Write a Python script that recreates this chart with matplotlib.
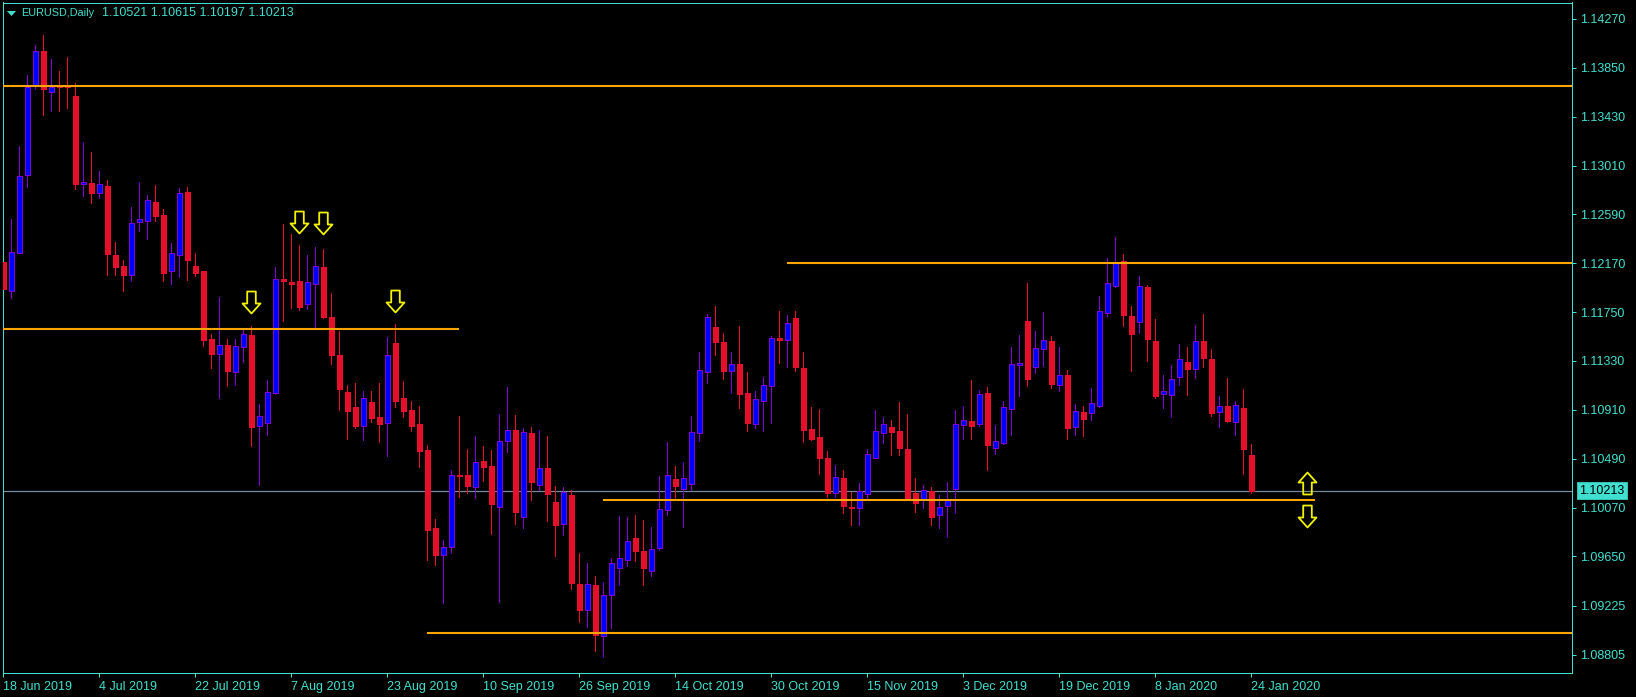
import numpy as np
import matplotlib
matplotlib.use('Agg')
from matplotlib import pyplot as plt
from matplotlib.path import Path

opens = [1.12177,1.11934,1.12261,1.12931,1.13702,1.13992,1.13645,1.13699,1.13699,1.13608,
         1.12854,1.12860,1.12776,1.12834,1.12238,1.12146,1.12071,1.12527,1.12536,1.12693,
         1.12582,1.12106,1.12243,1.12782,1.12146,1.12100,1.11515,1.11392,1.11463,1.11237,
         1.11452,1.11549,1.10773,1.10799,1.11056,1.12034,1.12008,1.12014,1.11822,1.11994,
         1.12134,1.11704,1.11377,1.11062,1.10930,1.10773,1.10976,1.10844,1.10799,1.11481,
         1.11008,1.10907,1.10787,1.10561,1.09894,1.09664,1.09733,1.10349,1.10346,1.10246,
         1.10467,1.10427,1.10077,1.10644,1.10736,1.09991,1.10707,1.10266,1.10409,1.10117,
         1.09931,1.10177,1.09412,1.09191,1.09401,1.08968,1.09320,1.09552,1.09621,1.09808,
         1.09696,1.09527,1.09724,1.10051,1.10312,1.10232,1.10275,1.10713,1.11238,1.11619,
         1.11493,1.11246,1.11304,1.11052,1.10791,1.10989,1.11117,1.11524,1.11513,1.11699,
         1.11269,1.10745,1.10676,1.10496,1.10197,1.10324,1.10074,1.10066,1.10189,1.10498,
         1.10711,1.10762,1.10728,1.10573,1.10195,1.10132,1.10212,1.10005,1.10083,1.10229,
         1.10779,1.10814,1.10791,1.11052,1.10584,1.10627,1.10917,1.11295,1.11671,1.11278,
         1.11435,1.11498,1.11125,1.11205,1.10764,1.10890,1.10884,1.10945,1.11744,1.11976,
         1.12186,1.11713,1.11667,1.11962,1.11498,1.11048,1.11039,1.11194,1.11317,1.11263,
         1.11498,1.11343,1.10893,1.10939,1.10807,1.10922,1.10521]
highs = [1.12435,1.12550,1.13178,1.13788,1.14046,1.14132,1.13926,1.13823,1.13943,1.13717,
         1.13209,1.13123,1.12960,1.12883,1.12352,1.12198,1.12653,1.12868,1.12756,1.12840,
         1.12633,1.12344,1.12817,1.12825,1.12258,1.12100,1.11561,1.11879,1.11518,1.11518,
         1.11595,1.11630,1.10959,1.11165,1.12137,1.12507,1.12421,1.12326,1.12240,1.12309,
         1.12292,1.11913,1.11587,1.11122,1.11140,1.11071,1.11071,1.11140,1.11535,1.11647,
         1.11157,1.10985,1.10942,1.10607,1.09971,1.09790,1.10392,1.10857,1.10573,1.10685,
         1.10599,1.10564,1.10874,1.11106,1.10865,1.10753,1.10762,1.10736,1.10685,1.10255,
         1.10246,1.10220,1.09679,1.09593,1.09481,1.09429,1.09636,1.09997,1.09988,1.10005,
         1.09962,1.09902,1.10341,1.10633,1.10427,1.10461,1.10857,1.11407,1.11734,1.11802,
         1.11570,1.11407,1.11630,1.11235,1.11072,1.11192,1.11545,1.11759,1.11725,1.11759,
         1.11407,1.10934,1.10917,1.10556,1.10435,1.10392,1.10203,1.10281,1.10573,1.10908,
         1.10848,1.10822,1.10977,1.10874,1.10324,1.10263,1.10246,1.10177,1.10289,1.10908,
         1.10943,1.11166,1.11080,1.11106,1.10779,1.10986,1.11450,1.11553,1.12000,1.11587,
         1.11750,1.11544,1.11449,1.11251,1.10959,1.10942,1.11097,1.11888,1.12214,1.12395,
         1.12249,1.11802,1.12060,1.11982,1.11690,1.11208,1.11294,1.11475,1.11449,1.11638,
         1.11733,1.11432,1.11028,1.11183,1.10985,1.11088,1.10615]
lows = [1.11811,1.11874,1.12261,1.12828,1.13671,1.13444,1.13479,1.13479,1.13507,1.12808,
        1.12751,1.12688,1.12733,1.12069,1.12069,1.11931,1.12020,1.12447,1.12378,1.12533,
        1.12020,1.11994,1.12051,1.12028,1.12063,1.11461,1.11271,1.11011,1.11117,1.11122,
        1.11320,1.10598,1.10263,1.10692,1.11045,1.11673,1.11784,1.11767,1.11776,1.11607,
        1.11698,1.11303,1.10907,1.10658,1.10753,1.10649,1.10804,1.10632,1.10512,1.10933,
        1.10847,1.10727,1.10417,1.09618,1.09575,1.09249,1.09679,1.10160,1.10194,1.10151,
        1.10298,1.09842,1.09257,1.10547,1.09928,1.09894,1.10134,1.10220,1.09954,1.09653,
        1.09833,1.09369,1.09085,1.09042,1.08839,1.08787,1.09034,1.09403,1.09567,1.09610,
        1.09403,1.09481,1.09704,1.10005,1.10134,1.09902,1.10220,1.10642,1.11140,1.11381,
        1.11175,1.11054,1.10925,1.10728,1.10754,1.10728,1.10796,1.11312,1.11278,1.11244,
        1.10633,1.10650,1.10358,1.10160,1.10160,1.10023,1.09919,1.09919,1.10143,1.10496,
        1.10625,1.10521,1.10521,1.10143,1.10031,1.10066,1.09919,1.09891,1.09816,1.10023,
        1.10659,1.10659,1.10771,1.10392,1.10530,1.10616,1.10693,1.11029,1.11115,1.11226,
        1.11286,1.11097,1.11071,1.10658,1.10692,1.10684,1.10821,1.10933,1.11716,1.11965,
        1.11630,1.11243,1.11569,1.11329,1.11011,1.10925,1.10847,1.11122,1.11036,1.11183,
        1.11277,1.10856,1.10761,1.10804,1.10692,1.10357,1.10197]
closes = [1.11945,1.12263,1.12917,1.13682,1.13992,1.13671,1.13682,1.13688,1.13688,1.12854,
          1.12868,1.12776,1.12848,1.12252,1.12140,1.12071,1.12513,1.12547,1.12711,1.12579,
          1.12089,1.12255,1.12771,1.12200,1.12089,1.11509,1.11392,1.11463,1.11243,1.11455,
          1.11558,1.10761,1.10853,1.11059,1.12031,1.12017,1.11991,1.11796,1.12005,1.12143,
          1.11707,1.11380,1.11088,1.10899,1.10770,1.11008,1.10839,1.10787,1.11377,1.10985,
          1.10899,1.10770,1.10555,1.09876,1.09661,1.09727,1.10346,1.10341,1.10255,1.10458,
          1.10418,1.10100,1.10639,1.10733,1.10031,1.10716,1.10289,1.10407,1.10186,1.09919,
          1.10200,1.09421,1.09188,1.09409,1.08974,1.09315,1.09590,1.09633,1.09779,1.09696,
          1.09550,1.09710,1.10054,1.10346,1.10255,1.10321,1.10716,1.11249,1.11705,1.11496,
          1.11244,1.11301,1.11046,1.10796,1.11000,1.11120,1.11524,1.11513,1.11653,1.11278,
          1.10736,1.10659,1.10496,1.10195,1.10329,1.10083,1.10066,1.10209,1.10527,1.10725,
          1.10785,1.10719,1.10582,1.10152,1.10109,1.10218,1.09988,1.10071,1.10134,1.10785,
          1.10819,1.10771,1.11043,1.10607,1.10639,1.10931,1.11301,1.11310,1.11175,1.11438,
          1.11506,1.11134,1.11205,1.10753,1.10896,1.10830,1.10965,1.11756,1.11996,1.12183,
          1.11724,1.11561,1.11971,1.11518,1.11028,1.11068,1.11171,1.11343,1.11260,1.11498,
          1.11354,1.10882,1.10939,1.10813,1.10948,1.10572,1.10213]

date_labels = ['18 Jun 2019','4 Jul 2019','22 Jul 2019','7 Aug 2019','23 Aug 2019','10 Sep 2019',
               '26 Sep 2019','14 Oct 2019','30 Oct 2019','15 Nov 2019','3 Dec 2019','19 Dec 2019',
               '8 Jan 2020','24 Jan 2020']
price_ticks = [1.14270,1.13850,1.13430,1.13010,1.12590,1.12170,1.11750,1.11330,1.10910,1.10490,
               1.10070,1.09650,1.09225,1.08805]

# levels drawn by hand on the chart: price, first bar, last bar
level_prices = [1.13694,1.11604,1.12174,1.10134,1.08991]
level_starts = [-1,-1,98,75,53]
level_ends = [197,57,197,164,197]

down_arrow_bars = [37,40,31,49,163]
down_arrow_prices = [1.12524,1.12512,1.11834,1.11843,1.09994]
up_arrow_bars = [163]
up_arrow_prices = [1.10283]

turq = '#40E0D0'
red = '#E6102A'
blue = '#0000FF'
purple = '#7A00D6'
orange = '#FFA500'
W, H = 1636, 697

plt.rcParams['font.family'] = ['Liberation Sans', 'DejaVu Sans']
fig = plt.figure(figsize=(W/100, H/100), dpi=100, facecolor='black')
ax = fig.add_axes([2.5/W, 1-673/H, (1572-2.5)/W, (673-2.5)/H], facecolor='black')

o = np.array(opens)
h = np.array(highs)
l = np.array(lows)
c = np.array(closes)
x = np.arange(len(o))
up = c > o

ax.axhline(closes[-1], color='#778899', lw=0.9, zorder=1)

ax.vlines(x[up], l[up], h[up], color=purple, lw=0.72, antialiased=False, zorder=2)
ax.vlines(x[~up], l[~up], h[~up], color=red, lw=0.72, antialiased=False, zorder=2)
ax.bar(x[up], (c-o)[up], bottom=o[up], width=0.56, facecolor=blue, edgecolor=purple,
       linewidth=0.72, antialiased=False, zorder=3)
ax.bar(x[~up], (o-c)[~up], bottom=c[~up], width=0.56, facecolor=red, edgecolor=red,
       linewidth=0.72, antialiased=False, zorder=3)

ax.hlines(level_prices, level_starts, level_ends, color=orange, lw=1.5, zorder=4)

# hollow arrows, sized in pixels
down_path = Path([(-4.3,11),(4.3,11),(4.3,-1),(9,-1),(0,-11),(-9,-1),(-4.3,-1),(-4.3,11)], closed=True)
up_path = Path([(-4.3,-11),(4.3,-11),(4.3,1),(9,1),(0,11),(-9,1),(-4.3,1),(-4.3,-11)], closed=True)
ax.plot(down_arrow_bars, down_arrow_prices, ls='none', marker=down_path, ms=15.8, mfc='none',
        mec='#F2F200', mew=1.3, zorder=5)
ax.plot(up_arrow_bars, up_arrow_prices, ls='none', marker=up_path, ms=15.8, mfc='none',
        mec='#F2F200', mew=1.3, zorder=5)

ax.set_xlim((2.5-3.33)/8, (1572-3.33)/8)
ax.set_ylim(1.14433-673*0.00008597, 1.14433-2.5*0.00008597)

ax.set_xticks(x[::12])
ax.set_xticklabels(date_labels, ha='left')
ax.yaxis.tick_right()
ax.set_yticks(price_ticks)
ax.set_yticklabels([f'{p:.5f}' for p in price_ticks])
ax.tick_params(axis='x', colors=turq, length=3, width=0.72, labelsize=9, pad=2.5)
ax.tick_params(axis='y', colors=turq, length=3, width=0.72, labelsize=9, pad=3)
for sp in ax.spines.values():
    sp.set_color(turq)
    sp.set_linewidth(0.72)

ax.text(1.0045, closes[-1], f'{closes[-1]:.5f}', transform=ax.get_yaxis_transform(), color='black',
        fontsize=9, va='center', ha='left', clip_on=False, zorder=6,
        bbox=dict(boxstyle='square,pad=0.2', fc=turq, ec=turq, lw=0.5))

fig.text(21/W, 1-13.3/H, 'EURUSD,Daily', color=turq, fontsize=7.8, va='center')
fig.text(102/W, 1-13.3/H, ' '.join(f'{v:.5f}' for v in (opens[-1], highs[-1], lows[-1], closes[-1])),
         color=turq, fontsize=9, va='center')
tri = Path([(-4.5,2.5),(4.5,2.5),(0,-2.5),(-4.5,2.5)], closed=True)
ax.plot([10.5/W], [1-12.5/H], marker=tri, ms=6.5, color=turq, mew=0, transform=fig.transFigure, clip_on=False)

fig.savefig('out.png', dpi=100, facecolor='black')
